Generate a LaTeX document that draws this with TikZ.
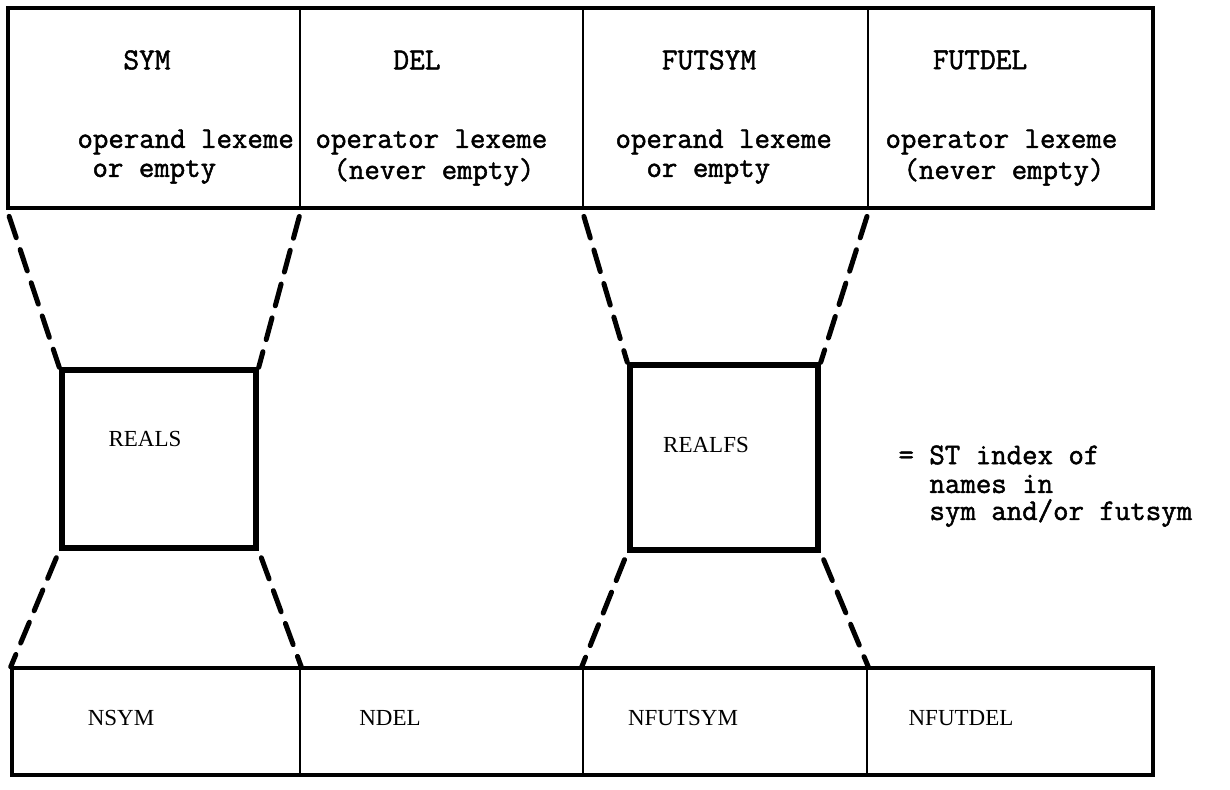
\documentclass[tikz,border=0pt]{standalone}
\usepackage{fontspec}
\newfontfamily\twfont{Latin Modern Mono}[FakeBold=1.6]
\newfontfamily\labelfont{Liberation Serif}
\usetikzlibrary{fit}
\begin{document}
\begin{tikzpicture}[x=0.4pt,y=-0.4pt,
  cell/.style={draw, line width=1pt, inner sep=0pt},
  frame/.style={draw, line width=1.8pt, inner sep=0pt},
  realbox/.style={draw, line width=2.2pt, inner sep=0pt},
  link/.style={line width=2pt, dash pattern=on 9pt off 5pt, line cap=round, shorten <=3pt},
  head/.style={font=\twfont\fontsize{12.2}{13}\selectfont, inner sep=0pt},
  desc/.style={font=\twfont\fontsize{12}{13}\selectfont, anchor=west, inner sep=0pt},
  lbl/.style={font=\labelfont\fontsize{9.2}{11}\selectfont, inner sep=0pt}]
\useasboundingbox (0,0) rectangle (1230,790);
% top row
\node[cell, fit={(8,8) (300,208)}] (sym) {};
\node[cell, fit={(300,8) (583,208)}] (del) {};
\node[cell, fit={(583,8) (868,208)}] (futsym) {};
\node[cell, fit={(868,8) (1153,208)}] (futdel) {};
\node[frame, fit={(8,8) (1153,208)}] (toprow) {};
% bottom row
\node[cell, fit={(12,668) (300,775)}] (nsym) {};
\node[cell, fit={(300,668) (583,775)}] (ndel) {};
\node[cell, fit={(583,668) (867,775)}] (nfutsym) {};
\node[cell, fit={(867,668) (1153,775)}] (nfutdel) {};
\node[frame, fit={(12,668) (1153,775)}] (botrow) {};
% middle boxes
\node[realbox, fit={(62,370) (256,548)}] (reals) {};
\node[realbox, fit={(630,365) (818,550)}] (realfs) {};
% dashed links
\draw[link] (sym.south west) -- (reals.north west);
\draw[link] (sym.south east) -- (reals.north east);
\draw[link] (reals.south west) -- (nsym.north west);
\draw[link] (reals.south east) -- (nsym.north east);
\draw[link] (futsym.south west) -- (realfs.north west);
\draw[link] (futsym.south east) -- (realfs.north east);
\draw[link] (realfs.south west) -- (nfutsym.north west);
\draw[link] (realfs.south east) -- (nfutsym.north east);
% top labels
\node[head] (tsym) at (147,60) {SYM};
\node[head] (tdel) at (417,60) {DEL};
\node[head] (tfutsym) at (709,60) {FUTSYM};
\node[head] (tfutdel) at (980,60) {FUTDEL};
\node[desc] (d1a) at (77,142) {operand lexeme};
\node[desc] (d1b) at (92,172) {or empty};
\node[desc] (d2a) at (315,142) {operator lexeme};
\node[desc] (d2b) at (333,172) {(never empty)};
\node[desc] (d3a) at (615,142) {operand lexeme};
\node[desc] (d3b) at (646,172) {or empty};
\node[desc] (d4a) at (885,142) {operator lexeme};
\node[desc] (d4b) at (903,172) {(never empty)};
% middle labels
\node[lbl] (lreals) at (145,439) {REALS};
\node[lbl] (lrealfs) at (706,445) {REALFS};
\node[desc] (n1) at (898,455) {= ST index of};
\node[desc] (n2) at (929,484) {names in};
\node[desc] (n3) at (929,513) {sym and/or futsym};
% bottom labels
\node[lbl] (lnsym) at (121,718) {NSYM};
\node[lbl] (lndel) at (390,718) {NDEL};
\node[lbl] (lnfutsym) at (683,718) {NFUTSYM};
\node[lbl] (lnfutdel) at (961,718) {NFUTDEL};
\end{tikzpicture}
\end{document}
